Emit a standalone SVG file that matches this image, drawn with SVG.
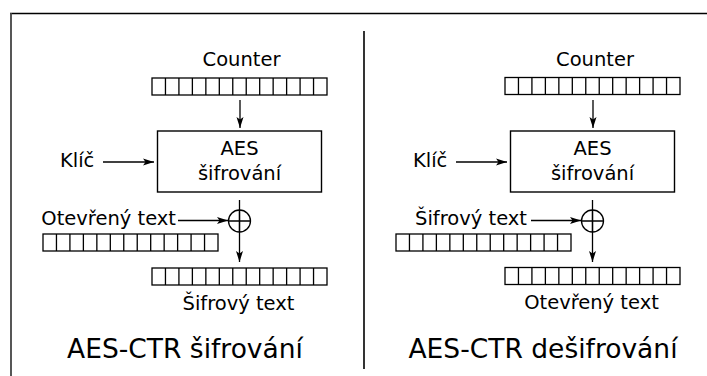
<svg xmlns="http://www.w3.org/2000/svg" xmlns:xlink="http://www.w3.org/1999/xlink" width="707" height="376" viewBox="0 0 707 376">
<style>
text{font-family:"DejaVu Sans","Liberation Sans",sans-serif;fill:#000}
.lbl{font-size:19.5px}
.ttl{font-size:26.5px}
.mid{text-anchor:middle}
.end{text-anchor:end}
.ln{fill:none;stroke:#000;stroke-width:1.3}
.arr{fill:none;stroke:#000;stroke-width:1.3;marker-end:url(#ah)}
.box{fill:#fff;stroke:#000;stroke-width:1.4}
</style>
<defs>
<marker id="ah" markerUnits="userSpaceOnUse" markerWidth="12" markerHeight="10" viewBox="0 0 12 10" refX="11" refY="5" orient="auto">
<path d="M0,1.5 L11,5 L0,8.5 L2.5,5 Z" fill="#000"/>
</marker>
<g id="bar">
<rect x="0" y="0" width="175" height="17" fill="#fff" stroke="#000" stroke-width="1.3"/>
<path d="M13.46,0V17M26.92,0V17M40.38,0V17M53.85,0V17M67.31,0V17M80.77,0V17M94.23,0V17M107.69,0V17M121.15,0V17M134.62,0V17M148.08,0V17M161.54,0V17" stroke="#000" stroke-width="1.3" fill="none"/>
</g>
</defs>
<rect width="707" height="376" fill="#fff"/>
<g id="frame">
<path d="M10,13.5H707" stroke="#000" stroke-width="1.6" fill="none"/>
<path d="M11,13V376" stroke="#444" stroke-width="1.8" fill="none"/>
<path d="M364,31V369" stroke="#000" stroke-width="1.6" fill="none"/>
</g>
<g id="connectors">
<path class="arr" d="M240,100V128"/>
<path class="arr" d="M103,162H154"/>
<path class="arr" d="M239.5,200V262"/>
<path class="arr" d="M178,220.5H228"/>
<path class="arr" d="M593,100V128"/>
<path class="arr" d="M456,162H507"/>
<path class="arr" d="M592.5,200V262"/>
<path class="arr" d="M531,220.5H581"/>
</g>
<g id="enc">
<g id="enc-counter"><text class="lbl mid" x="241.5" y="66">Counter</text><use xlink:href="#bar" x="152" y="78"/></g>
<g id="enc-aes"><rect class="box" x="157.5" y="131" width="164" height="61"/><text class="lbl mid" x="239.5" y="155">AES</text><text class="lbl mid" x="239.5" y="180">šifrování</text></g>
<g id="enc-key"><text class="lbl" x="60" y="167">Klíč</text></g>
<g id="enc-xor"><circle cx="239.5" cy="221" r="11" class="ln"/><path class="ln" d="M228.5,221H250.5M239.5,210V232"/></g>
<g id="enc-in"><text class="lbl end" x="176" y="225">Otevřený text</text><use xlink:href="#bar" x="43" y="234"/></g>
<g id="enc-out"><use xlink:href="#bar" x="152" y="268"/><text class="lbl mid" x="238.5" y="310">Šifrový text</text></g>
<text class="ttl mid" x="185" y="358">AES-CTR šifrování</text>
</g>
<g id="dec">
<g id="dec-counter"><text class="lbl mid" x="595" y="66">Counter</text><use xlink:href="#bar" x="505" y="77.5"/></g>
<g id="dec-aes"><rect class="box" x="510.5" y="131" width="164" height="61"/><text class="lbl mid" x="592.5" y="155">AES</text><text class="lbl mid" x="592.5" y="180">šifrování</text></g>
<g id="dec-key"><text class="lbl" x="413" y="167">Klíč</text></g>
<g id="dec-xor"><circle cx="592.5" cy="221" r="11" class="ln"/><path class="ln" d="M581.5,221H603.5M592.5,210V232"/></g>
<g id="dec-in"><text class="lbl end" x="527" y="225">Šifrový text</text><use xlink:href="#bar" x="396" y="234"/></g>
<g id="dec-out"><use xlink:href="#bar" x="505" y="267.5"/><text class="lbl mid" x="591.5" y="309">Otevřený text</text></g>
<text class="ttl mid" x="543" y="358">AES-CTR dešifrování</text>
</g>
</svg>
